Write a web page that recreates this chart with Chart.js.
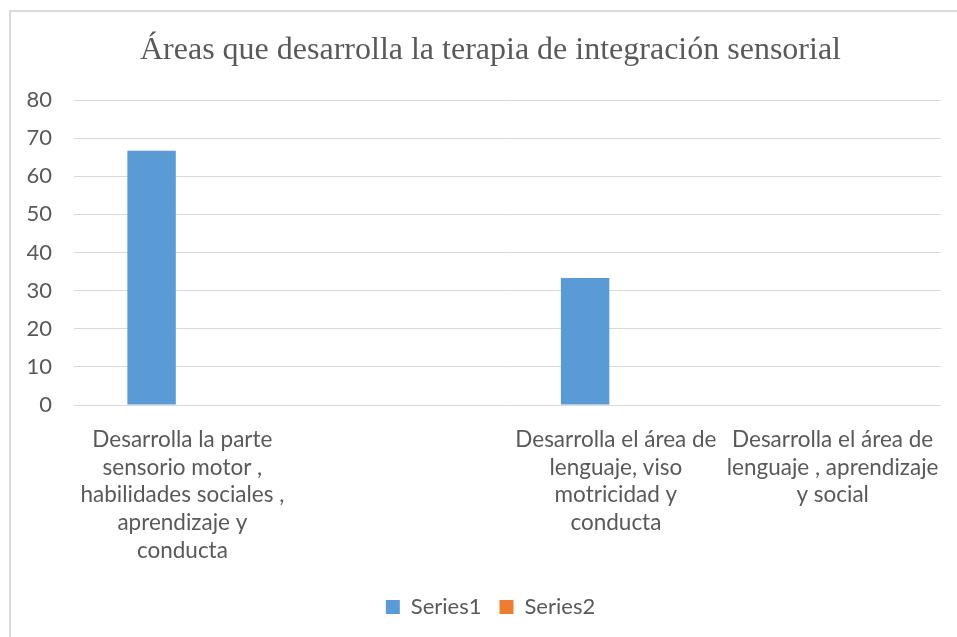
<!DOCTYPE html>
<html>
<head>
<meta charset="utf-8">
<script src="https://cdn.jsdelivr.net/npm/chart.js@4"></script>
<style>
    html, body { margin: 0; padding: 0; background: #fff; overflow: hidden; }
    #frame {
        position: absolute; left: 9px; top: 10px;
        width: 990px; height: 660px;
        border: 2px solid #dadada;
    }
    #chart { position: absolute; left: 0; top: 0; }
</style>
</head>
<body>
<div id="frame"></div>
<canvas id="chart" width="981" height="640"></canvas>
<script>
// Datos del gráfico
const chartTitle = 'Áreas que desarrolla la terapia de integración sensorial';

const categorias = [
    ['Desarrolla la parte', 'sensorio motor ,', 'habilidades sociales ,', 'aprendizaje y', 'conducta'],
    '',
    ['Desarrolla el área de', 'lenguaje, viso', 'motricidad y', 'conducta'],
    ['Desarrolla el área de', 'lenguaje , aprendizaje', 'y social']
];

const series1 = [66.67, 0, 33.33, 0];
const series2 = [0, 0, 0, 0];

const yMin = 0;
const yMax = 80;
const yStep = 10;

// Colores estilo Excel
const textColor = '#595959';
const gridColor = '#d9d9d9';
const azul = '#5b9bd5';
const naranja = '#ed7d31';

const sansFont = "Lato, 'Liberation Sans', sans-serif";

const ctx = document.getElementById('chart').getContext('2d');

new Chart(ctx, {
    type: 'bar',
    data: {
        labels: categorias,
        datasets: [
            {
                label: 'Series1',
                data: series1,
                backgroundColor: azul,
                categoryPercentage: 0.568,
                barPercentage: 0.787
            },
            {
                label: 'Series2',
                data: series2,
                backgroundColor: naranja,
                categoryPercentage: 0.568,
                barPercentage: 0.787
            }
        ]
    },
    options: {
        responsive: false,
        animation: false,
        layout: { padding: { left: 0, right: 0, top: 0, bottom: 12 } },
        plugins: {
            title: {
                display: true,
                text: chartTitle,
                color: textColor,
                font: { family: "'Liberation Serif', 'Times New Roman', serif", size: 32, weight: 'normal' },
                padding: { top: 31, bottom: 30.6 }
            },
            legend: {
                position: 'bottom',
                labels: {
                    color: textColor,
                    font: { family: sansFont, size: 22 },
                    boxWidth: 14,
                    boxHeight: 14,
                    padding: 18
                }
            },
            tooltip: { enabled: false }
        },
        scales: {
            x: {
                grid: { display: false },
                border: { display: false },
                ticks: {
                    color: textColor,
                    font: { family: sansFont, size: 22.5, lineHeight: 1.23 },
                    padding: 13,
                    maxRotation: 0,
                    minRotation: 0,
                    autoSkip: false
                },
                afterFit: scale => { scale.height = 173; }
            },
            y: {
                min: yMin,
                max: yMax,
                grid: { color: gridColor, lineWidth: 1, drawTicks: false },
                border: { display: false },
                ticks: {
                    stepSize: yStep,
                    color: textColor,
                    font: { family: sansFont, size: 22 },
                    padding: 22
                },
                afterFit: scale => { scale.width = 74; }
            },
            y2: {
                position: 'right',
                grid: { display: false, drawTicks: false },
                border: { display: false },
                ticks: { display: false },
                afterFit: scale => { scale.width = 40; }
            }
        }
    }
});
</script>
</body>
</html>
